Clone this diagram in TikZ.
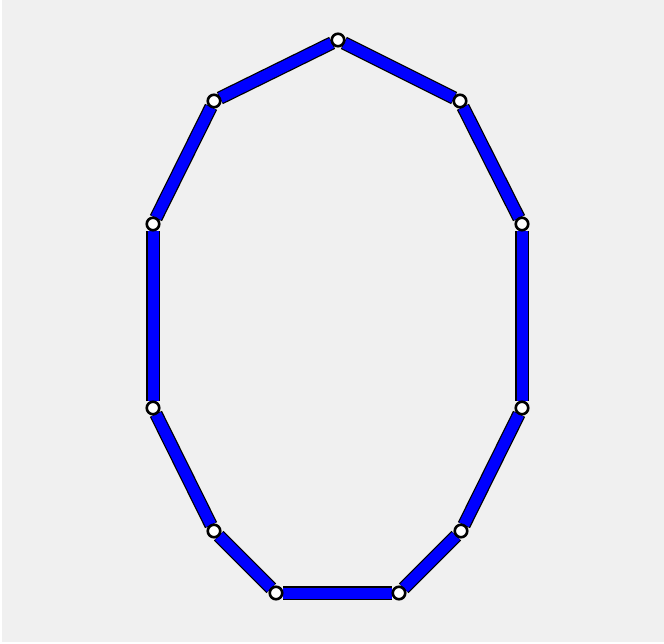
\documentclass[tikz,border=0pt]{standalone}
\usetikzlibrary{backgrounds}
\definecolor{bggray}{HTML}{F0F0F0}
\definecolor{barblue}{HTML}{0000FF}
\tikzset{
  joint/.style={circle, draw=black, fill=white, line width=2.6pt, inner sep=0pt, minimum size=12.5pt},
  barout/.style={line width=13.5pt, black, line cap=butt, shorten <=-1pt, shorten >=-1pt},
  barin/.style={line width=11pt, barblue, line cap=butt, shorten <=-0.5pt, shorten >=-0.5pt}
}
\begin{document}
\begin{tikzpicture}[x=1pt,y=-1pt]
\useasboundingbox (0,0) rectangle (664,644);
\node[joint] (A) at (338,40) {};
\node[joint] (B) at (460,101) {};
\node[joint] (C) at (522,224) {};
\node[joint] (D) at (522,408) {};
\node[joint] (E) at (461,531) {};
\node[joint] (F) at (399,593) {};
\node[joint] (G) at (276,593) {};
\node[joint] (H) at (214,531) {};
\node[joint] (I) at (153,408) {};
\node[joint] (J) at (153,224) {};
\node[joint] (K) at (214,101) {};
\begin{scope}[on background layer]
\fill[white] (0,0) rectangle (664,644);
\fill[bggray] (2,0) rectangle (664,642);
\foreach \a/\b in {A/B,B/C,C/D,D/E,E/F,F/G,G/H,H/I,I/J,J/K,K/A}{
  \draw[barout] (\a) -- (\b);
  \draw[barin] (\a) -- (\b);
}
\end{scope}
\end{tikzpicture}
\end{document}
